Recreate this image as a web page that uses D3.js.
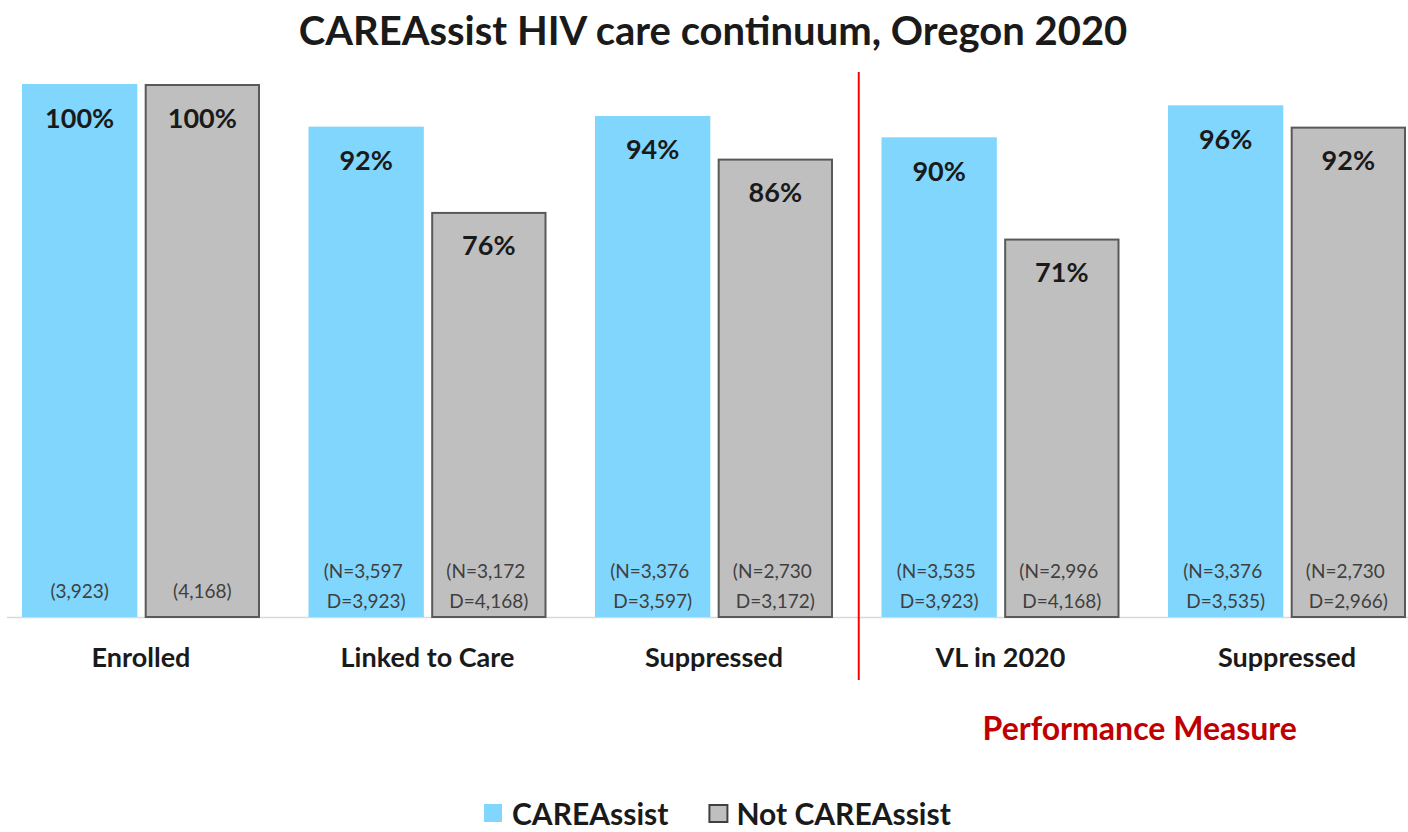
<!DOCTYPE html>
<html>
<head>
<meta charset="utf-8">
<script src="https://cdn.jsdelivr.net/npm/d3@7"></script>
<style>
  html, body { margin: 0; padding: 0; background: #fff; }
  svg { display: block; font-family: Lato, "Open Sans", sans-serif; }
</style>
</head>
<body>
<svg id="chart" width="1408" height="832"></svg>
<script>
// ---- data ----
const title = "CAREAssist HIV care continuum, Oregon 2020";
const categories = ["Enrolled", "Linked to Care", "Suppressed", "VL in 2020", "Suppressed"];
const seriesNames = ["CAREAssist", "Not CAREAssist"];
const careAssistPct = [100, 92, 94, 90, 96];
const notCareAssistPct = [100, 76, 86, 71, 92];
const careAssistN = [null, 3597, 3376, 3535, 3376];
const careAssistD = [3923, 3923, 3597, 3923, 3535];
const notCareAssistN = [null, 3172, 2730, 2996, 2730];
const notCareAssistD = [4168, 4168, 3172, 4168, 2966];
const groupLabel = "Performance Measure";
const groupStartIndex = 3;

// ---- styles ----
const colors = { "CAREAssist": "#80d6fd", "Not CAREAssist": "#bfbfbf" };
const svg = d3.select("#chart");
const W = 1408, H = 832;
const baseY = 617, topY = 84;

const x = d3.scaleBand().domain(d3.range(categories.length)).range([-2.25, 1430.25]).padding(0);
const sub = d3.scaleBand().domain(seriesNames).range([-119, 119]).paddingInner(0.06);
const y = d3.scaleLinear().domain([0, 100]).range([baseY, topY]);
const fmt = d3.format(",");

const rows = categories.map((c, i) => ({
  i, cat: c,
  bars: [
    { s: "CAREAssist", v: careAssistPct[i], n: careAssistN[i], d: careAssistD[i] },
    { s: "Not CAREAssist", v: notCareAssistPct[i], n: notCareAssistN[i], d: notCareAssistD[i] }
  ]
}));
const cx = i => x(i) + x.bandwidth() / 2;

// title
svg.append("text").attr("x", 713).attr("y", 30)
  .attr("text-anchor", "middle").attr("dominant-baseline", "central")
  .attr("font-size", 40).attr("font-weight", 700).attr("fill", "#1a1a1a")
  .text(title);

// baseline
svg.append("line").attr("x1", 7).attr("x2", W).attr("y1", baseY + 0.5).attr("y2", baseY + 0.5)
  .attr("stroke", "#d9d9d9").attr("stroke-width", 1.5);

const g = svg.selectAll("g.cat").data(rows).join("g").attr("class", "cat")
  .attr("transform", d => `translate(${cx(d.i)},0)`);

const bar = g.selectAll("g.bar").data(d => d.bars).join("g").attr("class", "bar");

bar.append("rect")
  .attr("x", d => sub(d.s) + (d.s === "Not CAREAssist" ? 1 : 0))
  .attr("y", d => y(d.v) + (d.s === "Not CAREAssist" ? 1 : 0))
  .attr("width", d => sub.bandwidth() - (d.s === "Not CAREAssist" ? 2 : 0))
  .attr("height", d => baseY - y(d.v) - (d.s === "Not CAREAssist" ? 1 : 0))
  .attr("fill", d => colors[d.s])
  .attr("stroke", d => d.s === "Not CAREAssist" ? "#595959" : "none")
  .attr("stroke-width", 2);

bar.append("text")
  .attr("x", d => sub(d.s) + sub.bandwidth() / 2)
  .attr("y", d => y(d.v) + 33)
  .attr("text-anchor", "middle").attr("dominant-baseline", "central")
  .attr("font-size", 27).attr("font-weight", 700).attr("fill", "#1a1a1a")
  .text(d => d.v + "%");

bar.each(function(d) {
  const lines = d.n == null ? [`(${fmt(d.d)})`] : [`(N=${fmt(d.n)}`, ` D=${fmt(d.d)})`];
  const ys = d.n == null ? [590] : [570, 600];
  const t = d3.select(this);
  lines.forEach((ln, k) => {
    t.append("text")
      .attr("x", sub(d.s) + sub.bandwidth() / 2 + (k === 0 && lines.length > 1 ? -3 : 0))
      .attr("y", ys[k])
      .attr("text-anchor", "middle").attr("dominant-baseline", "central")
      .attr("font-size", 19).attr("fill", "#404040")
      .text(ln);
  });
});

// category labels
g.append("text").attr("x", 0).attr("y", 656)
  .attr("text-anchor", "middle").attr("dominant-baseline", "central")
  .attr("font-size", 27).attr("font-weight", 700).attr("fill", "#1a1a1a")
  .text(d => d.cat);

// red divider
const divX = x(groupStartIndex) + 1.5;
svg.append("line").attr("x1", divX).attr("x2", divX).attr("y1", 72).attr("y2", 680)
  .attr("stroke", "#ff0000").attr("stroke-width", 2);

// group label
svg.append("text")
  .attr("x", (x(groupStartIndex) + x(categories.length - 1) + x.bandwidth()) / 2 - 4)
  .attr("y", 727)
  .attr("text-anchor", "middle").attr("dominant-baseline", "central")
  .attr("font-size", 32).attr("font-weight", 700).attr("fill", "#c00000")
  .text(groupLabel);

// legend
const leg = svg.append("g");
let lx = 484;
seriesNames.forEach(s => {
  const isGray = s === "Not CAREAssist";
  leg.append("rect").attr("x", lx + (isGray ? 1 : 0)).attr("y", 804 + (isGray ? 1 : 0))
    .attr("width", 18).attr("height", isGray ? 17 : 18)
    .attr("fill", colors[s]).attr("stroke", isGray ? "#404040" : "none").attr("stroke-width", 2);
  const t = leg.append("text").attr("x", lx + 28).attr("y", 813)
    .attr("dominant-baseline", "central")
    .attr("font-size", 30).attr("font-weight", 700).attr("fill", "#1a1a1a")
    .text(s);
  lx += 28 + t.node().getComputedTextLength() + 40;
});
</script>
</body>
</html>
